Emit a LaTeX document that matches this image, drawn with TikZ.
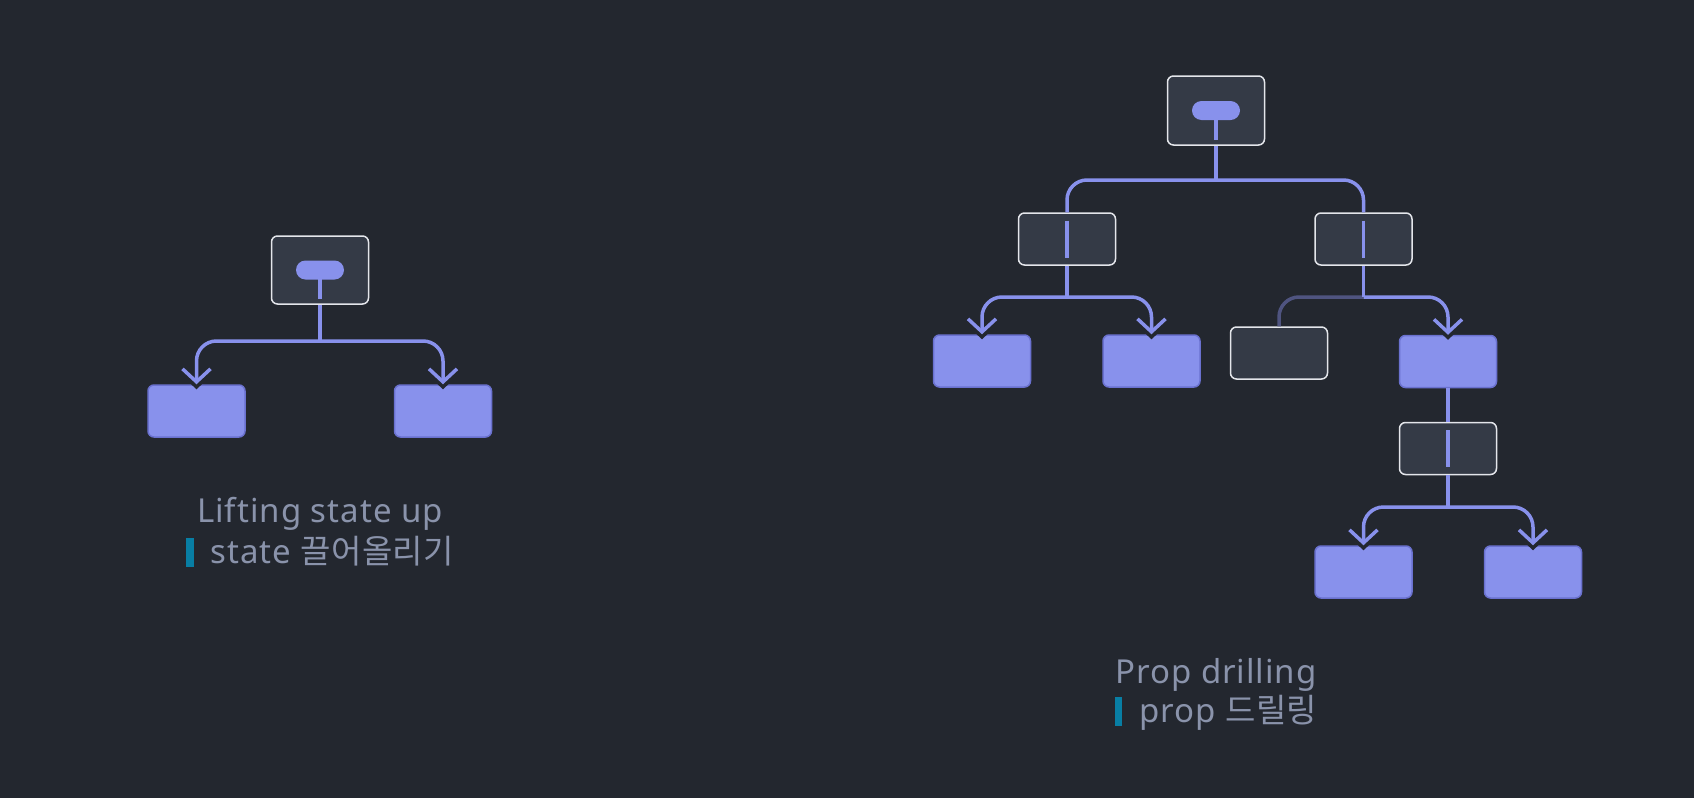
\documentclass[tikz,border=0pt]{standalone}
\usepackage{fontspec}
\setmainfont{Noto Sans}[LetterSpace=3]
\newfontfamily\krfont{Noto Sans CJK KR}[LetterSpace=1]
\usetikzlibrary{arrows.meta}

\definecolor{bg}{HTML}{23272F}
\definecolor{boxfill}{HTML}{343A46}
\definecolor{boxedge}{HTML}{E4E6EB}
\definecolor{leaf}{HTML}{8891EC}
\definecolor{leafedge}{HTML}{6A71CF}
\definecolor{wirecol}{HTML}{8891EC}
\definecolor{wiredim}{HTML}{4F5480}
\definecolor{textcol}{HTML}{8A93AB}
\definecolor{barblue}{HTML}{087EA4}

\newcommand\tagbar{\textcolor{barblue}{\rule[-1.85pt]{3.75pt}{14.35pt}}\hspace{8.5pt}}

\tikzset{
  wire/.style={draw=wirecol, line width=1.75pt},
  darkbox/.style={draw=boxedge, fill=boxfill, line width=0.75pt, rounded corners=3pt,
    minimum width=48.5pt, minimum height=26pt, inner sep=0pt},
  leafbox/.style={draw=leafedge, fill=leaf, line width=0.75pt, rounded corners=3pt,
    minimum width=48.5pt, minimum height=26pt, inner sep=0pt},
  passbox/.style={darkbox, path picture={
    \draw[wire] ([yshift=-3.75pt]path picture bounding box.north)
      -- ([yshift=3.75pt]path picture bounding box.south);}},
  rootbox/.style={darkbox, minimum height=34pt, path picture={
    \fill[wirecol, rounded corners=4.75pt]
      ([xshift=-12pt,yshift=-4.75pt]path picture bounding box.center) rectangle
      ([xshift=12pt,yshift=4.75pt]path picture bounding box.center);
    \draw[wire] (path picture bounding box.center)
      -- ([yshift=2.5pt]path picture bounding box.south);}},
  elbow/.style={wire, rounded corners=10pt},
  feed/.style={elbow, -{Straight Barb[length=6.5pt,width=14pt]}},
  notch/.style={draw=bg, line width=6pt, rounded corners=10pt, shorten >=-2.5pt,
    -{Straight Barb[length=6.5pt,width=14pt]}},
  caption/.style={text=textcol, font=\fontsize{16.5pt}{19pt}\selectfont,
    anchor=base, inner sep=0pt}
}

\begin{document}
\begin{tikzpicture}[x=0.5pt,y=-0.5pt]
  \useasboundingbox (0,0) rectangle (1694,798);
  \fill[bg] (0,0) rectangle (1694,798);

  % lifting state up
  \node[rootbox] (lroot) at (320,270) {};
  \node[leafbox] (la) at (196.5,411) {};
  \node[leafbox] (lb) at (443,411) {};
  \coordinate (lj) at (320,341);

  % prop drilling
  \node[rootbox, minimum height=34.5pt] (rroot) at (1216,110.5) {};
  \node[passbox] (ra) at (1067,239) {};
  \node[passbox] (rb) at (1363.5,239) {};
  \node[leafbox] (raa) at (982,361) {};
  \node[leafbox] (rab) at (1151.5,361) {};
  \node[darkbox] (rba) at (1279,353) {};
  \node[leafbox] (rbb) at (1448,361.5) {};
  \node[passbox] (rc) at (1448,448.5) {};
  \node[leafbox] (rca) at (1363.5,572) {};
  \node[leafbox] (rcb) at (1533,572) {};
  \coordinate (rj) at (1216,180);
  \coordinate (raj) at (1067,297);
  \coordinate (rbj) at (1363.5,297);
  \coordinate (rcj) at (1448,507);

  \begin{scope}
    \foreach \j/\c in {lj/la, lj/lb, raj/raa, raj/rab, rbj/rbb, rcj/rca, rcj/rcb}
      \draw[notch] (\j) -| (\c.north);
    \draw[elbow, draw=wiredim] (rbj) -| (rba.north);
    \draw[wire] (lroot.south) -- (lj);
    \draw[wire] (rroot.south) -- (rj);
    \draw[wire] (ra.south) -- (raj);
    \draw[wire] (rb.south) -- (rbj);
    \draw[wire] (rbb.south) -- (rc.north);
    \draw[wire] (rc.south) -- (rcj);
    \draw[elbow] (rj) -| (ra.north);
    \draw[elbow] (rj) -| (rb.north);
    \foreach \j/\c in {lj/la, lj/lb, raj/raa, raj/rab, rbj/rbb, rcj/rca, rcj/rcb}
      \draw[feed] (\j) -| (\c.north);
  \end{scope}

  \node[caption] (ltitle) at (320,522.7) {Lifting state up};
  \node[caption] (lsub) at (320,563) {\tagbar state {\krfont 끌어올리기}};
  \node[caption] (rtitle) at (1216,683.3) {Prop drilling};
  \node[caption] (rsub) at (1216,722) {\tagbar prop {\krfont 드릴링}};
\end{tikzpicture}
\end{document}
